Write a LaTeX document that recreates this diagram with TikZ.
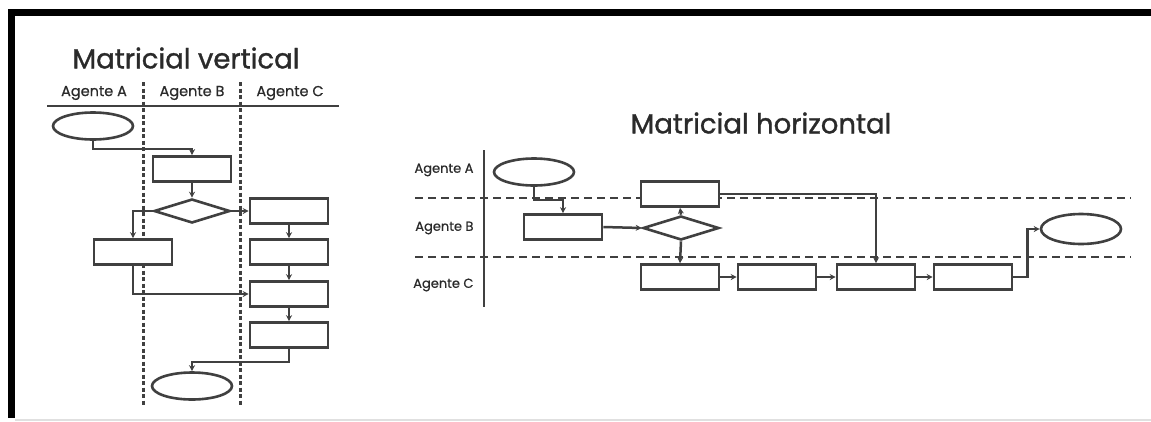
\documentclass[tikz,border=0pt]{standalone}
\usepackage{fontspec}
\setmainfont{Poppins}
\newfontfamily\ttlfont{Poppins}[FakeBold=1.2]
\newfontfamily\lblfont{Poppins}[FakeBold=0.6]
\usetikzlibrary{shapes.geometric,arrows.meta}
\definecolor{ln}{HTML}{404040}
\definecolor{tx}{HTML}{2A2A2A}
\tikzset{
  shp/.style={draw=ln, line width=2.6pt, fill=white, inner sep=0pt},
  boxn/.style={shp, rectangle, minimum width=78pt, minimum height=25pt},
  ovaln/.style={shp, ellipse, minimum width=80pt, minimum height=27pt},
  diam/.style={shp, diamond, minimum width=76pt, minimum height=24pt},
  arr/.style={draw=ln, line width=2.5pt, -{Stealth[length=6pt,width=6pt]}},
  conn/.style={draw=ln, line width=2.5pt},
  vdash/.style={draw=ln, line width=3pt, dash pattern=on 4pt off 2.5pt},
  hdash/.style={draw=ln, line width=2.8pt, dash pattern=on 8pt off 5pt},
  ttl/.style={text=tx, font=\ttlfont\fontsize{27.5}{30}\selectfont},
  lbl/.style={text=tx, font=\lblfont\fontsize{14.5}{16}\selectfont},
  lblr/.style={text=tx, font=\lblfont\fontsize{13}{15}\selectfont, anchor=east},
}
\begin{document}
\begin{tikzpicture}[x=1pt,y=-1pt]
\useasboundingbox (0,0) rectangle (1151,421);
\fill[white] (0,0) rectangle (1151,421);
% frame
\fill[black] (8,9) rectangle (1151,16);
\fill[black] (8,9) rectangle (15,418);
\fill[black!12] (15,419) rectangle (1151,421);

% ===== Matricial vertical =====
\node[ttl] (tv) at (186,58) {Matricial vertical};
\node[lbl] (la) at (94,93) {Agente A};
\node[lbl] (lb) at (192,93) {Agente B};
\node[lbl] (lc) at (290,93) {Agente C};
\coordinate (hl1) at (47,106);
\coordinate (hl2) at (339,106);
\draw[conn] (hl1) -- (hl2);
\coordinate (v1t) at (143,82);
\coordinate (v1b) at (143,406);
\coordinate (v2t) at (240,82);
\coordinate (v2b) at (240,406);
\draw[vdash] (v1t) -- (v1b);
\draw[vdash] (v2t) -- (v2b);

\node[ovaln] (vs) at (93,126) {};
\node[boxn] (vb1) at (192,169) {};
\node[diam] (vd) at (192,211) {};
\node[boxn] (vc1) at (289,211) {};
\node[boxn] (va) at (133,252) {};
\node[boxn] (vc2) at (289,252) {};
\node[boxn] (vc3) at (289,294) {};
\node[boxn] (vc4) at (289,335) {};
\node[ovaln] (ve) at (192,386) {};

\draw[arr] (vs.south) -- ++(0,8) -| (vb1.north);
\draw[arr] (vb1.south) -- (vd.north);
\draw[arr] (vd.west) -| (va.north);
\draw[arr] (vd.east) -- (vc1.west);
\draw[arr] (vc1.south) -- (vc2.north);
\draw[arr] (vc2.south) -- (vc3.north);
\draw[arr] (vc3.south) -- (vc4.north);
\draw[arr] (va.south) |- (vc3.west);
\draw[arr] (vc4.south) -- ++(0,13) -| (ve.north);

% ===== Matricial horizontal =====
\node[ttl] (th) at (761,123) {Matricial horizontal};
\coordinate (vlt) at (484,150);
\coordinate (vlb) at (484,307);
\draw[conn, line width=2.8pt] (vlt) -- (vlb);
\coordinate (d1l) at (415,198);
\coordinate (d1r) at (1131,198);
\coordinate (d2l) at (415,257);
\coordinate (d2r) at (1131,257);
\draw[hdash] (d1l) -- (d1r);
\draw[hdash] (d2l) -- (d2r);
\node[lblr] (ra) at (477,170) {Agente A};
\node[lblr] (rb) at (477,228) {Agente B};
\node[lblr] (rc) at (477,285) {Agente C};

\node[ovaln] (hs) at (534,172) {};
\node[boxn] (hb1) at (563,227) {};
\node[diam] (hd) at (681,228) {};
\node[boxn] (ha2) at (680,194) {};
\node[boxn] (hc1) at (680,277) {};
\node[boxn] (hc2) at (777,277) {};
\node[boxn] (hc3) at (876,277) {};
\node[boxn] (hc4) at (973,277) {};
\node[ovaln, minimum height=30pt] (he) at (1081,229) {};

\draw[arr] (hs.south) -- ++(0,13) -| (hb1.north);
\draw[arr] (hb1.east) -- (hd.west);
\draw[arr] (hd.north) -- (ha2.south);
\draw[arr] (hd.south) -- (hc1.north);
\draw[arr] (hc1.east) -- (hc2.west);
\draw[arr] (hc2.east) -- (hc3.west);
\draw[arr] (hc3.east) -- (hc4.west);
\draw[arr] (ha2.east) -| (hc3.north);
\draw[arr] (hc4.east) -- ++(14,0) |- (he.west);
\end{tikzpicture}
\end{document}
